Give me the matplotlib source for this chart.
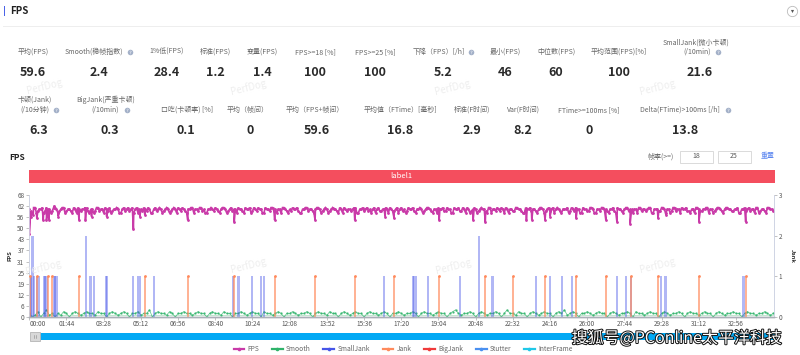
import matplotlib
matplotlib.use('Agg')
import matplotlib.pyplot as plt
import matplotlib.patheffects as pe
from matplotlib.patches import Rectangle
from matplotlib.lines import Line2D
import numpy as np

plt.rcParams['font.family'] = ['Noto Sans CJK SC', 'DejaVu Sans']

# 指标
row1_labels = ['平均(FPS)', 'Smooth(稳帧指数)', '1%低(FPS)', '标准(FPS)', '变量(FPS)', 'FPS>=18 [%]',
               'FPS>=25 [%]', '下降（FPS）[/h]', '最小(FPS)', '中位数(FPS)', '平均范围(FPS)[%]',
               'SmallJank(微小卡顿)']
row1_values = ['59.6', '2.4', '28.4', '1.2', '1.4', '100', '100', '5.2', '46', '60', '100', '21.6']
row1_label_x = [33, 94, 167, 215, 262, 315, 375, 439, 505, 556, 619, 696]
row1_value_x = [33, 99, 167, 215, 262, 315, 375, 443, 505, 556, 619, 700]

row2_labels = ['卡顿(Jank)', 'BigJank(严重卡顿)', '口吃(卡顿率) [%]', '平均（帧间）',
               '平均（FPS+帧间）', '平均值（FTime）[毫秒]', '标准(F时间)', 'Var(F时间)',
               'FTime>=100ms [%]', 'Delta(FTime)>100ms [/h]']
row2_values = ['6.3', '0.3', '0.1', '0', '59.6', '16.8', '2.9', '8.2', '0', '13.8']
row2_label_x = [35, 106, 187, 248, 315, 401, 472, 523, 589, 680]
row2_value_x = [39, 110, 186, 250, 317, 400, 472, 523, 589, 685]

# 第二行小字（两行标签）
sub_labels = ['(/10min)', '(/10分钟)', '(/10min)']
sub_x = [697, 35, 105]
sub_y = [52, 110, 110]

help_x = [130, 471, 718, 56, 127, 728]
help_y = [52, 52, 52, 110, 110, 110]

# 时间轴
tick_seconds = [0, 104, 208, 312, 416, 520, 624, 728, 832, 936, 1040, 1144, 1248, 1352, 1456, 1560, 1664, 1768, 1872, 1976]
tick_names = ['00:00', '01:44', '03:28', '05:12', '06:56', '08:40', '10:24', '12:08', '13:52', '15:36',
              '17:20', '19:04', '20:48', '22:32', '24:16', '26:00', '27:44', '29:28', '31:12', '32:56']
fps_ticks = [0, 6.18, 12.36, 18.55, 24.73, 30.91, 37.09, 43.27, 49.45, 55.64, 61.82, 68]
fps_tick_names = ['0', '6', '12', '19', '25', '31', '37', '43', '50', '56', '62', '68']

# FPS 曲线（每 8 秒一个点）
fps_base = [
    60, 58, 61, 59, 60, 58, 61, 60, 59, 61, 58, 60, 61, 59, 60, 58, 60, 61, 59, 60, 61, 58, 60, 59, 61, 60,
    58, 60, 61, 59, 60, 60, 58, 61, 60, 59, 61, 60, 58, 60, 61, 59, 60, 58, 61, 60, 60, 59, 61, 58, 60, 60,
    61, 59, 60, 58, 60, 61, 60, 59, 61, 60, 58, 60, 60, 61, 59, 60, 61, 58, 60, 59, 60, 61, 60, 58, 60, 61,
    59, 60, 61, 60, 58, 60, 59, 61, 60, 60, 58, 61, 59, 60, 61, 60, 59, 58, 60, 61, 60, 59, 60, 61, 58, 60,
    60, 59, 61, 60, 58, 60, 61, 59, 60, 60, 61, 58, 60, 59, 61, 60, 60, 58, 61, 59, 60, 60, 61, 59, 60, 58,
    61, 60, 59, 60, 61, 58, 60, 60, 59, 61, 60, 58, 60, 61, 60, 59, 61, 60, 58, 60, 61, 59, 60, 61, 58, 60,
    60, 59, 61, 60, 58, 61, 60, 59, 60, 61, 58, 60, 60, 59, 61, 60, 59, 58, 60, 61, 60, 59, 60, 61, 58, 60,
    59, 61, 60, 60, 58, 60, 61, 59, 60, 61, 60, 58, 60, 59, 61, 60, 58, 60, 61, 60, 59, 60, 61, 58, 60, 59,
    60, 61, 60, 58, 60, 61, 59, 60, 60, 61, 58, 60, 59, 61, 60, 60, 58, 61, 59, 60, 61, 60, 59, 58, 60, 61,
    60, 59, 60, 61, 60, 58, 60, 61, 59, 60, 61, 60, 59, 60, 58, 60, 61, 60, 59, 60, 61, 58, 60, 59, 61, 60, 59]
# 与上面错开 4 秒的点
fps_mid = [
    59, 61, 58, 60, 61, 59, 60, 58, 61, 60, 59, 61, 58, 60, 59, 61, 58, 60, 60, 61, 59, 60, 58, 61, 59, 60,
    61, 59, 58, 60, 61, 58, 60, 59, 61, 60, 58, 61, 60, 59, 60, 61, 58, 60, 59, 61, 58, 60, 60, 59, 61, 58,
    60, 61, 59, 60, 61, 58, 60, 61, 59, 58, 60, 61, 59, 60, 58, 61, 60, 59, 61, 60, 58, 60, 59, 61, 60, 58,
    61, 59, 60, 58, 61, 60, 61, 59, 58, 60, 61, 60, 58, 59, 60, 61, 58, 60, 61, 59, 60, 58, 61, 60, 59, 61,
    58, 60, 60, 59, 61, 58, 60, 60, 59, 61, 58, 60, 61, 60, 59, 58, 61, 60, 59, 60, 61, 58, 60, 59, 61, 60,
    59, 58, 61, 60, 59, 60, 61, 58, 60, 61, 59, 60, 58, 60, 61, 59, 60, 58, 61, 60, 59, 61, 58, 60, 59, 61,
    58, 60, 60, 59, 61, 58, 60, 61, 59, 60, 61, 58, 60, 59, 61, 60, 58, 61, 60, 59, 60, 58, 61, 60, 59, 61,
    60, 58, 61, 59, 60, 60, 58, 61, 59, 60, 58, 61, 60, 59, 61, 58, 60, 59, 61, 60, 58, 60, 59, 61, 60, 58,
    61, 59, 60, 60, 58, 61, 60, 59, 61, 58, 60, 60, 59, 61, 58, 60, 59, 61, 60, 58, 60, 61, 59, 60, 58, 61,
    59, 60, 61, 58, 60, 59, 61, 60, 58, 61, 60, 59, 60, 61, 58, 60, 59, 61, 60, 58, 61, 59, 60, 58, 61, 60, 59]
dip_times = [0, 5, 11, 21, 39, 48, 55, 70, 81, 139, 157, 174, 216, 291, 309, 323, 443, 573, 686, 799, 910, 995,
             1020, 1146, 1241, 1275, 1390, 1405, 1442, 1456, 1529, 1612, 1643, 1680, 1758, 1780, 1872, 2003]
dip_values = [46, 56, 57, 55, 54, 54, 54, 62, 56, 54, 54, 56, 56, 49, 56, 57, 54, 53, 54, 54, 54, 56,
              55, 54, 54, 53, 54, 54, 54, 56, 55, 54, 53, 52, 55, 57, 53, 53]

# Smooth 曲线（每 8 秒一个点）
smooth_values = [
    2, 0, 1, 3, 0, 2, 4, 1, 2, 0, 2, 1, 3, 2, 0, 2, 3, 2, 1, 2, 3, 2, 2, 1, 3, 2,
    2, 0, 2, 3, 2, 1, 2, 3, 2, 0, 2, 2, 3, 1, 2, 2, 4, 0, 2, 3, 2, 2, 1, 3, 2, 0,
    2, 2, 3, 2, 2, 1, 2, 3, 2, 2, 0, 2, 3, 2, 2, 1, 3, 2, 2, 0, 2, 2, 3, 2, 1, 2,
    3, 2, 2, 0, 3, 2, 2, 1, 2, 3, 2, 0, 2, 2, 3, 2, 1, 2, 2, 3, 2, 0, 2, 3, 2, 2,
    1, 3, 2, 2, 0, 2, 3, 2, 1, 2, 3, 2, 2, 0, 2, 3, 2, 2, 1, 2, 3, 2, 0, 2, 2, 3,
    2, 1, 2, 2, 3, 2, 0, 2, 3, 2, 2, 1, 2, 3, 2, 2, 0, 2, 3, 4, 2, 1, 2, 2, 3, 2,
    0, 2, 3, 2, 1, 2, 2, 3, 2, 0, 2, 4, 2, 2, 1, 3, 2, 2, 0, 2, 3, 2, 1, 2, 3, 2,
    2, 0, 2, 3, 2, 4, 1, 2, 3, 2, 0, 2, 2, 3, 2, 1, 2, 3, 2, 2, 0, 2, 3, 2, 1, 2,
    2, 3, 2, 0, 3, 2, 2, 1, 2, 3, 2, 2, 0, 2, 3, 2, 1, 2, 2, 3, 2, 0, 2, 3, 2, 2,
    1, 2, 3, 2, 2, 0, 2, 3, 2, 1, 2, 2, 3, 2, 2, 0, 2, 3, 2, 2, 1, 2, 2, 3, 2, 1, 2, 3, 2, 2, 1, 3, 2, 2]

# 卡顿
small_jank_times = [2, 5, 9, 14, 22, 26, 40, 45, 48, 68, 72, 76, 158, 171, 182, 214, 218, 290, 305, 310, 348,
                    570, 585, 622, 647, 656, 992, 1073, 1075, 1081, 1115, 1204, 1258, 1295, 1417, 1456, 1490,
                    1517, 1643, 1669, 1682, 1766, 1779, 1997]
small_jank_values = [1, 1, 2, 1, 1, 1, 1, 1, 1, 1, 1, 1, 2, 1, 1, 1, 1, 1, 1, 1, 1,
                     1, 1, 1, 1, 1, 1, 1, 1, 1, 1, 1, 2, 1, 1, 1, 1,
                     1, 1, 1, 1, 1, 1, 1]
jank_times = [2, 21, 53, 63, 138, 323, 443, 572, 686, 799, 910, 1020, 1146, 1275, 1352, 1441, 1529, 1612,
              1682, 1758, 1872, 2003]
jank_values = [1] * len(jank_times)

legend_names = ['FPS', 'Smooth', 'SmallJank', 'Jank', 'BigJank', 'Stutter', 'InterFrame']
legend_colors = ['#c93aa8', '#2fb36a', '#4655e8', '#ff8a5c', '#f03a3a', '#4a90f0', '#20c8e8']

watermarks = [(44, 86), (248, 87), (452, 87), (657, 87), (43, 267), (248, 265), (453, 266), (657, 265)]

W, H = 800, 355
fig = plt.figure(figsize=(8, 3.55), dpi=100)
fig.patch.set_facecolor('white')

L, R, T, B = 29.3, 774, 195, 317
ax = fig.add_axes([L / W, 1 - B / H, (R - L) / W, (B - T) / H])
ax2 = ax.twinx()

# 叠加层，用像素坐标
ov = fig.add_axes([0, 0, 1, 1], zorder=5)
ov.set_xlim(0, W)
ov.set_ylim(H, 0)
ov.axis('off')
ov.patch.set_alpha(0)

ov.add_patch(Rectangle((3.5, 6), 1.5, 10, color='#4a63e8', lw=0))
ov.text(10, 11, 'FPS', fontsize=7, fontweight='bold', va='center', color='#222222')
ov.plot([3, 800], [26, 26], color='#eeeeee', lw=0.7)
ov.scatter([792], [11], s=55, facecolor='white', edgecolor='#bbbbbb', lw=0.6)
ov.scatter([792], [11], s=5, marker='v', color='#555555', lw=0)

for i, (lab, x) in enumerate(zip(row1_labels, row1_label_x)):
    y = 43 if i == 11 else 52
    ov.text(x, y, lab, fontsize=5, ha='center', va='center', color='#666666')
for val, x in zip(row1_values, row1_value_x):
    ov.text(x, 73, val, fontsize=9, fontweight='bold', ha='center', va='center', color='#2a2a2a')
for i, (lab, x) in enumerate(zip(row2_labels, row2_label_x)):
    y = 100 if i < 2 else 110
    ov.text(x, y, lab, fontsize=5, ha='center', va='center', color='#666666')
for val, x in zip(row2_values, row2_value_x):
    ov.text(x, 130, val, fontsize=9, fontweight='bold', ha='center', va='center', color='#2a2a2a')
for lab, x, y in zip(sub_labels, sub_x, sub_y):
    ov.text(x, y, lab, fontsize=5, ha='center', va='center', color='#666666')

ov.scatter(help_x, help_y, s=16, color='#a3b0c8', lw=0)
ov.scatter(help_x, help_y, s=6, marker='$?$', color='white', lw=0)

for x, y in watermarks:
    ov.text(x, y, 'PerfDog', fontsize=7, color='#eeeeee', rotation=14, ha='center', va='center', zorder=0)

ov.text(9, 157, 'FPS', fontsize=6, fontweight='bold', va='center', color='#222222')
ov.text(661, 156.5, '帧率(>=)', fontsize=5, ha='center', va='center', color='#666666')
ov.add_patch(Rectangle((680, 150.5), 32.5, 12, facecolor='white', edgecolor='#d5d5d5', lw=0.6))
ov.add_patch(Rectangle((718, 150.5), 32.5, 12, facecolor='white', edgecolor='#d5d5d5', lw=0.6))
ov.text(696, 156.5, '18', fontsize=5, ha='center', va='center', color='#555555')
ov.text(734, 156.5, '25', fontsize=5, ha='center', va='center', color='#555555')
ov.text(767.5, 156.5, '重置', fontsize=5, ha='center', va='center', color='#5b86f0')

ov.add_patch(Rectangle((29, 169.5), 745.5, 13.5, color='#f44e5e', lw=0))
ov.text(401, 176, 'label1', fontsize=5.5, color='white', ha='center', va='center')

# 滑块
ov.add_patch(Rectangle((38, 333), 737, 7, color='#03a9f4', lw=0))
ov.add_patch(Rectangle((29.5, 331.5), 10, 9.5, facecolor='#d8d8d8', edgecolor='#b5b5b5', lw=0.6))
ov.plot([33.5, 33.5], [334.5, 338], color='#888888', lw=0.4)
ov.plot([35.5, 35.5], [334.5, 338], color='#888888', lw=0.4)

ov.text(677, 338.5, '搜狐号@PConline太平洋科技', fontsize=11.5, color='white', ha='center', va='center',
        path_effects=[pe.withStroke(linewidth=1.4, foreground='#111111')])

# 曲线
all_t = np.concatenate([np.arange(len(fps_base)) * 8, np.arange(len(fps_mid)) * 8 + 4, dip_times])
all_v = np.concatenate([fps_base, fps_mid, dip_values])
order = np.argsort(all_t)
ax.plot(all_t[order], all_v[order], color=legend_colors[0], lw=1.2, marker='o', ms=1.0, zorder=4,
        solid_joinstyle='miter')
ax.plot(np.arange(len(smooth_values)) * 8, smooth_values, color=legend_colors[1], lw=0.5, marker='o', ms=0.7,
        alpha=0.8, zorder=4)
ax.axhline(1, color='#a9dcbc', lw=0.5)

ax2.bar(small_jank_times, small_jank_values, width=6, color=legend_colors[2], alpha=0.42, lw=0)
ax2.bar(jank_times, jank_values, width=5, color=legend_colors[3], alpha=0.65, lw=0)
ax2.scatter(jank_times, jank_values, s=4, color=legend_colors[3], lw=0, zorder=5)

x_end = (R - L) * 2.796
ax.set_xlim(0, x_end)
ax.set_ylim(0, 68)
ax2.set_ylim(0, 3)
ax.set_xticks(tick_seconds, tick_names)
ax.set_yticks(fps_ticks, fps_tick_names)
ax2.set_yticks([0, 1, 2, 3])
ax.get_xticklabels()[0].set_ha('left')
ax.tick_params(axis='x', labelsize=4.6, length=2, width=0.5, color='#aaaaaa', labelcolor='#555555', pad=0.5)
ax.tick_params(axis='y', labelsize=4.6, length=2, width=0.5, color='#aaaaaa', labelcolor='#555555', pad=1.5)
ax2.tick_params(axis='y', labelsize=4.6, length=2, width=0.5, color='#aaaaaa', labelcolor='#555555', pad=1.5)
ax.set_ylabel('FPS', fontsize=4.2, fontweight='bold', labelpad=3.5, color='#333333')
ax2.set_ylabel('Jank', fontsize=4.2, fontweight='bold', labelpad=5, color='#333333', rotation=270, va='bottom')

for a in (ax, ax2):
    a.spines['top'].set_visible(False)
    a.spines['left'].set_color('#cfd4e4')
    a.spines['right'].set_color('#cfd4e4')
    a.spines['left'].set_linewidth(0.6)
    a.spines['right'].set_linewidth(0.6)
    a.spines['bottom'].set_color('#aab0b8')
    a.spines['bottom'].set_linewidth(1.0)

handles = [Line2D([], [], color=c, lw=1.6, marker='o', ms=1.6) for c in legend_colors]
ov.legend(handles, legend_names, loc='center', bbox_to_anchor=(403 / W, 1 - 349 / H), bbox_transform=fig.transFigure,
          ncol=7, frameon=False, fontsize=4.8, handlelength=1.6, columnspacing=1.9, handletextpad=0.5,
          labelcolor='#666666', borderpad=0)

fig.savefig('out.png', dpi=100)
